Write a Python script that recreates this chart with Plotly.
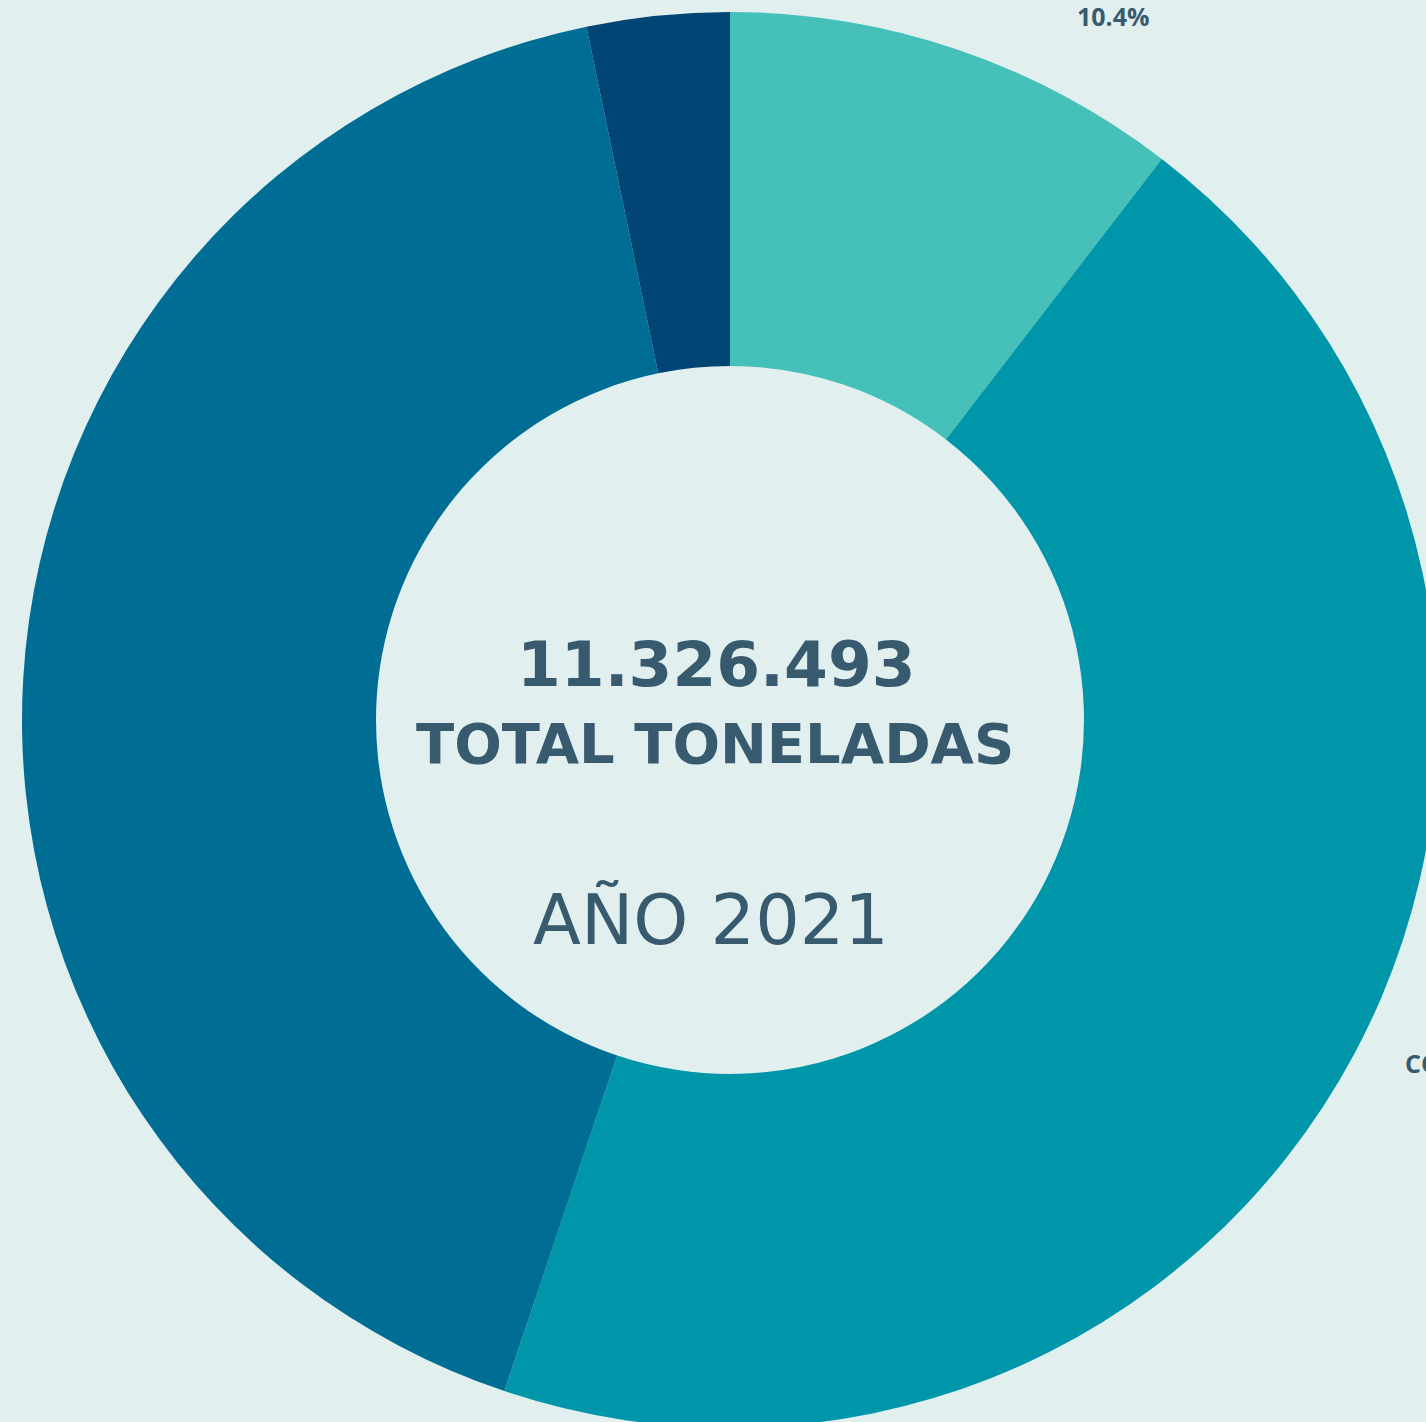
import plotly.graph_objects as go

# ---- data ----
categories = ["GRANEL LÍQUIDO", "CONTENEDORES", "GRANEL SÓLIDO", "CARGA GENERAL"]
toneladas = [1182486, 5065208, 4710688, 368111]
colors = ["#45c1b9", "#0096aa", "#006d94", "#004574"]
year_label = "AÑO 2021"
total_label = "TOTAL TONELADAS"

total = sum(toneladas)
total_txt = f"{total:,}".replace(",", ".")
pcts = [v / total * 100 for v in toneladas]

BG = "#e1efef"
TXT = "#375a6e"

W, H = 1460, 1440
MT, MB = 12, 12
PH = H - MT - MB


def px(x):
    return x / W


def py(y):
    return (H - MB - y) / PH


fig = go.Figure(go.Pie(
    labels=categories,
    values=toneladas,
    hole=0.5,
    sort=False,
    direction="clockwise",
    rotation=0,
    marker=dict(colors=colors, line=dict(width=0)),
    textinfo="none",
    hoverinfo="label+percent+value",
    showlegend=False,
))

annotations = [
    dict(text=f"<b>{total_txt}</b>", x=px(716), y=py(665),
         font=dict(family="DejaVu Sans", size=63, color=TXT)),
    dict(text=f"<b>{total_label}</b>", x=px(715), y=py(744),
         font=dict(family="DejaVu Sans", size=56, color=TXT)),
    dict(text=year_label, x=px(711), y=py(920),
         font=dict(family="DejaVu Sans", size=70, color=TXT)),
    dict(text=f"<b>{pcts[0]:.1f}%</b>", x=px(1113), y=py(16),
         font=dict(family="Open Sans", size=25, color=TXT)),
    dict(text=f"<b>{categories[1]}</b>", x=px(1403), y=py(1063), xanchor="left",
         font=dict(family="Open Sans", size=25, color=TXT)),
]
for a in annotations:
    a.setdefault("xanchor", "center")
    a["yanchor"] = "middle"
    a["xref"] = "paper"
    a["yref"] = "paper"
    a["showarrow"] = False

fig.update_layout(
    width=W, height=H,
    margin=dict(l=0, r=0, t=MT, b=MB, pad=0),
    paper_bgcolor=BG,
    plot_bgcolor=BG,
    annotations=annotations,
)

fig.write_html("out.html")
